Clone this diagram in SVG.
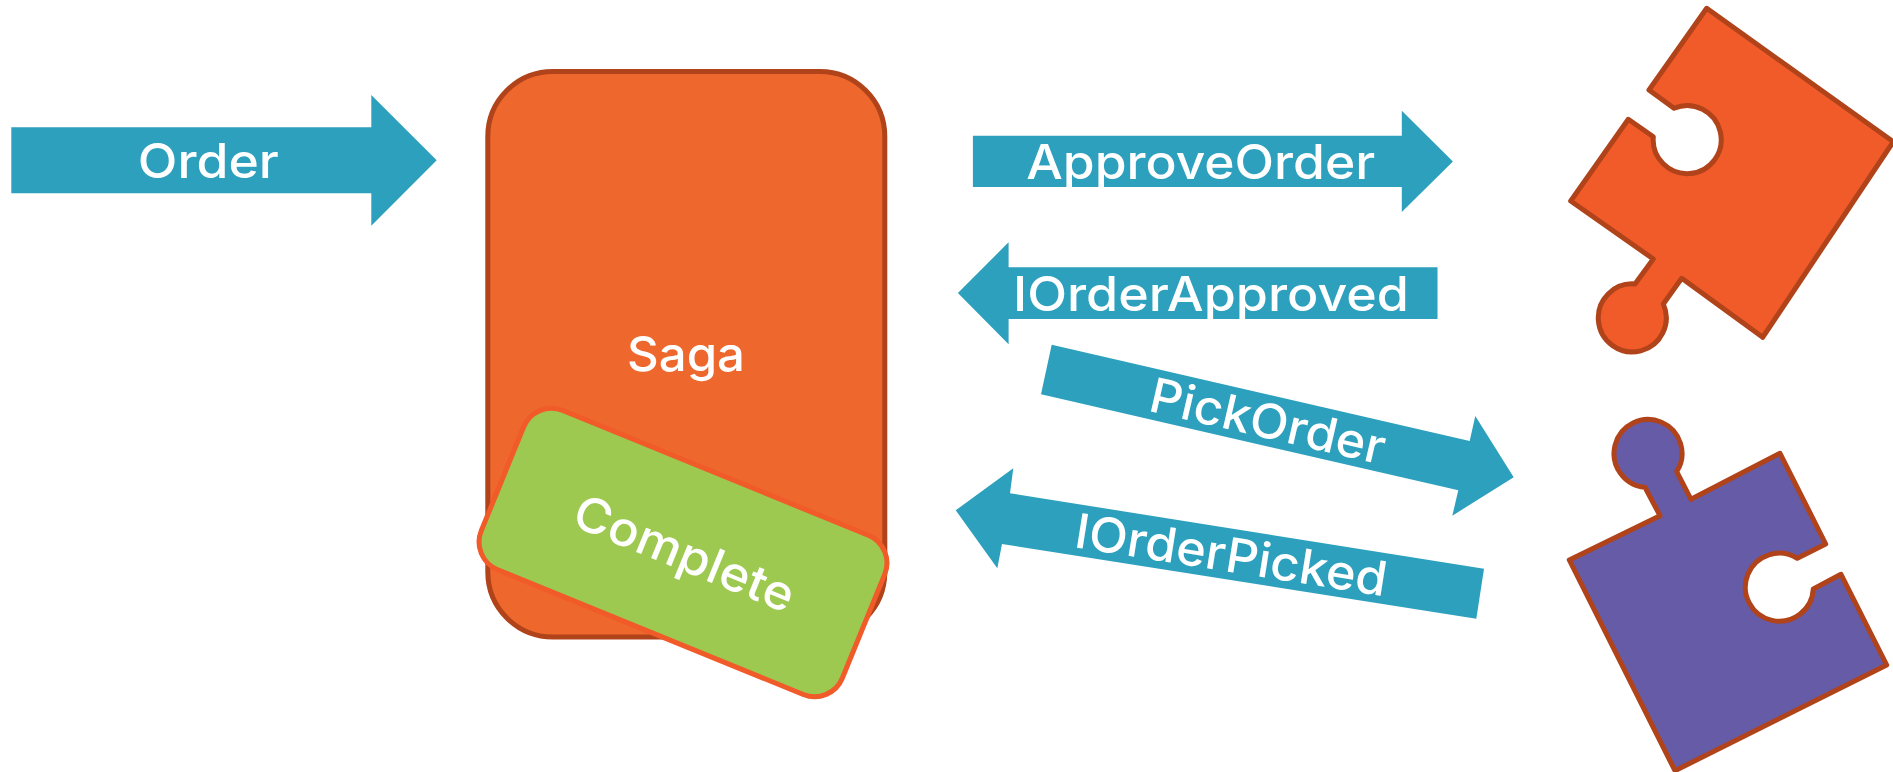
<svg xmlns="http://www.w3.org/2000/svg" width="1893" height="772" viewBox="0 0 1893 772">
<style>
.arrow{fill:#2ca0bd}
.lbl{font-family:Inter,"Liberation Sans",sans-serif;font-size:48px;font-weight:500;fill:#fff;text-anchor:middle}
.piece{stroke:#b0431a;stroke-width:5;stroke-linejoin:round}
</style>
<rect width="1893" height="772" fill="#fff"/>
<g id="saga">
<rect x="487.8" y="71.5" width="397" height="565.5" rx="65" ry="65" fill="#ee672d" stroke="#b0431a" stroke-width="5"/>
<text class="lbl" x="686" y="371" textLength="118" lengthAdjust="spacingAndGlyphs">Saga</text>
</g>
<g id="complete">
<rect x="488" y="466.5" width="390" height="172" rx="30" ry="30" transform="rotate(22.2 683 552.5)" fill="#9dc951" stroke="#f15a29" stroke-width="5"/>
<text class="lbl" transform="translate(678 569) rotate(22.2)" x="0" y="0" textLength="234" lengthAdjust="spacingAndGlyphs">Complete</text>
</g>
<g id="connectors">
<g id="order">
<polygon class="arrow" points="11.3,127.3 371.3,127.3 371.3,95 436.7,160.3 371.3,225.7 371.3,193.3 11.3,193.3"/>
<text class="lbl" x="208.3" y="177.7" textLength="141" lengthAdjust="spacingAndGlyphs">Order</text>
</g>
<g id="approve-order">
<polygon class="arrow" points="972.9,135.7 1401.8,135.7 1401.8,110.7 1452.9,161.5 1401.8,212 1401.8,187 972.9,187"/>
<text class="lbl" x="1200.7" y="179" textLength="349" lengthAdjust="spacingAndGlyphs">ApproveOrder</text>
</g>
<g id="order-approved">
<polygon class="arrow" points="1437.5,267.3 1008.6,267.3 1008.6,242.3 957.9,293 1008.6,344.3 1008.6,319 1437.5,319"/>
<text class="lbl" x="1211" y="310.7" textLength="396" lengthAdjust="spacingAndGlyphs">IOrderApproved</text>
</g>
<g id="pick-order">
<polygon class="arrow" points="1051.7,344.7 1469.7,441 1475.3,416 1513.7,477.3 1452.3,515.7 1458.3,490.3 1041,394.3"/>
<text class="lbl" transform="translate(1264 437.6) rotate(13)" x="0" y="0" textLength="240" lengthAdjust="spacingAndGlyphs">PickOrder</text>
</g>
<g id="order-picked">
<polygon class="arrow" points="1013.3,468.3 1010,493.3 1484,568.7 1476.3,618.7 1002,544 997.3,568.3 955.7,510.3"/>
<text class="lbl" transform="translate(1228.6 571.7) rotate(9)" x="0" y="0" textLength="315" lengthAdjust="spacingAndGlyphs">IOrderPicked</text>
</g>
</g>
<g id="puzzle-orange">
<path class="piece" fill="#f15a29" d="M1706.7 8.3L1893.3 141.7L1762.7 337.3L1681.7 278.3L1663.3 304A34 34 0 1 1 1635 284L1653.3 259L1570.7 201L1628.3 119.3L1653.3 136.7A34 34 0 1 0 1674 108.3L1649 90Z"/>
</g>
<g id="puzzle-purple">
<path class="piece" fill="#665ba6" d="M1780 453.3L1825.7 544L1797.3 558.3A34 34 0 1 0 1813.3 589L1841 574.3L1886.7 665L1675 770.7L1569.3 560L1660 515.7L1645 487.3A34 34 0 1 1 1676.7 471.7L1691 499.3Z"/>
</g>
</svg>
